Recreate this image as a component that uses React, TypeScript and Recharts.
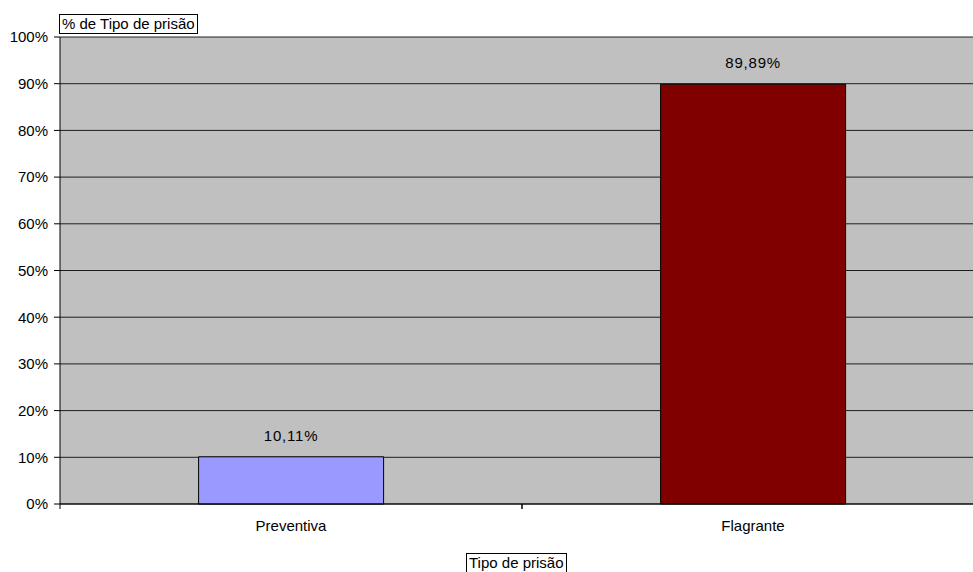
import { BarChart, Bar, XAxis, YAxis, CartesianGrid, Cell, LabelList } from "recharts";

const categories = ["Preventiva", "Flagrante"];
const percentages = [10.11, 89.89];
const barColors = ["#9999FF", "#800000"];
const yTicks = [0, 10, 20, 30, 40, 50, 60, 70, 80, 90, 100];

const data = categories.map((name, i) => ({ name, value: percentages[i] }));

const FONT = "'Liberation Sans', Arial, sans-serif";

function fmt(v: number) {
  return `${v.toFixed(2).replace(".", ",")}%`;
}

// category labels in the middle, tick marks on the band edges (Excel style)
function CategoryTick(props: any) {
  const { x, y, payload } = props;
  const half = payload.offset ?? 0;
  return (
    <g>
      <line x1={x - half} x2={x - half} y1={y} y2={y + 5} stroke="#000" />
      <line x1={x + half} x2={x + half} y1={y} y2={y + 5} stroke="#000" />
      <text x={x} y={y + 27} textAnchor="middle" fontSize={15} fontFamily={FONT} fill="#000">
        {payload.value}
      </text>
    </g>
  );
}

const boxStyle: React.CSSProperties = {
  position: "absolute",
  border: "1px solid #000",
  background: "#fff",
  fontFamily: FONT,
  fontSize: 15,
  lineHeight: "18px",
  padding: "0 2px",
  whiteSpace: "nowrap",
};

export default function App() {
  return (
    <div style={{ position: "fixed", left: 0, top: 0, width: 973, height: 572, overflow: "hidden", background: "#fff" }}>
      <BarChart
        width={990}
        height={572}
        data={data}
        margin={{ top: 37, right: 6, bottom: 38, left: 0 }}
        barCategoryGap="30%"
      >
        <CartesianGrid vertical={false} fill="#C0C0C0" stroke="#000" strokeOpacity={0.85} />
        <XAxis
          dataKey="name"
          stroke="#000"
          tickLine={false}
          tickSize={0}
          tickMargin={0}
          tick={<CategoryTick />}
          interval={0}
        />
        <YAxis
          width={60}
          domain={[0, 100]}
          ticks={yTicks}
          tickFormatter={(v: number) => `${v}%`}
          stroke="#000"
          tickSize={6}
          tickMargin={6}
          tick={{ fontSize: 15, fontFamily: FONT, fill: "#000" }}
        />
        <Bar dataKey="value" stroke="#000" strokeWidth={1} isAnimationActive={false}>
          {data.map((_, i) => (
            <Cell key={i} fill={barColors[i]} />
          ))}
          <LabelList
            dataKey="value"
            position="top"
            offset={16}
            formatter={(v: any) => fmt(Number(v))}
            style={{ fontSize: 15, fontFamily: FONT, fill: "#000", letterSpacing: 0.8 }}
          />
        </Bar>
      </BarChart>
      <div style={{ ...boxStyle, left: 59, top: 14 }}>% de Tipo de prisão</div>
      <div style={{ ...boxStyle, left: 466, top: 553 }}>Tipo de prisão</div>
    </div>
  );
}
